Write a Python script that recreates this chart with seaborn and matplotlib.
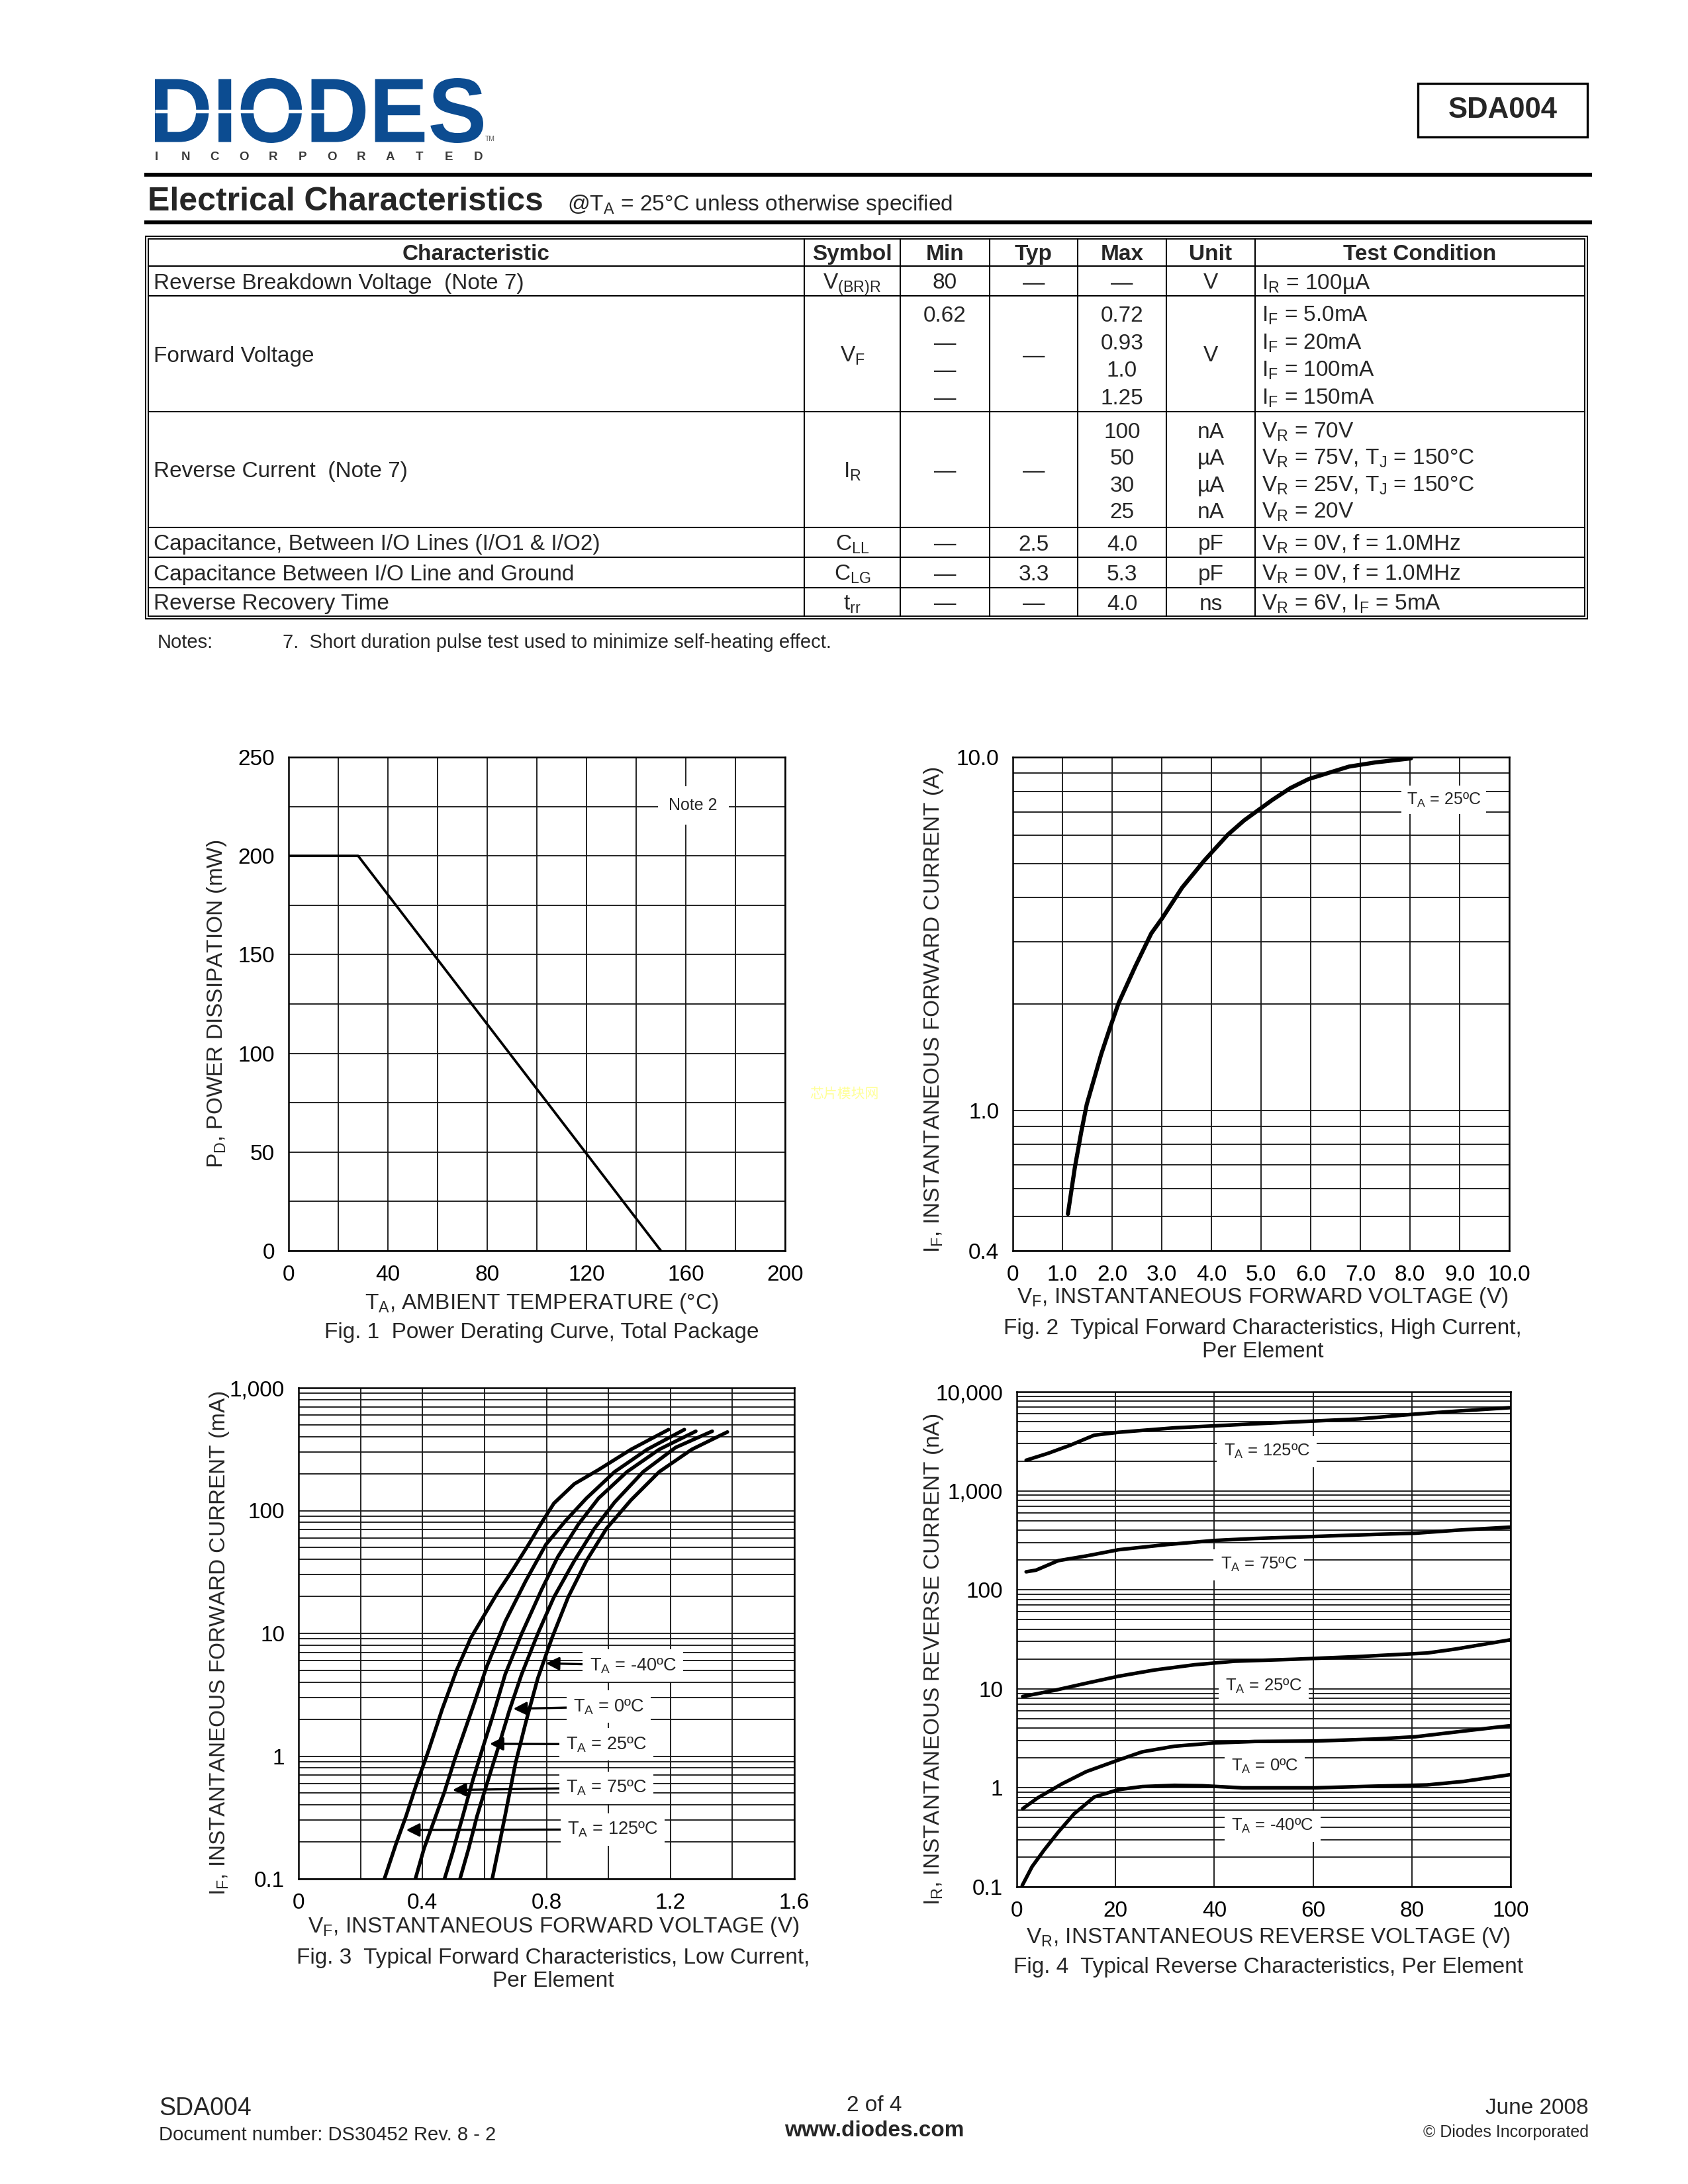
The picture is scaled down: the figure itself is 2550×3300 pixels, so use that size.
import numpy as np
import pandas as pd
import seaborn as sns
import matplotlib.pyplot as plt
from matplotlib.ticker import FixedLocator, FixedFormatter, NullFormatter, MultipleLocator
from matplotlib.patches import Rectangle, PathPatch
from matplotlib.textpath import TextPath
from matplotlib.font_manager import FontProperties
from matplotlib.transforms import Affine2D

# ---------------- data ----------------
# Fig. 1 power derating
derate_temp = [0, 28, 150]
derate_power = [200, 200, 0]

# Fig. 2 forward characteristics, high current
hc_vf = [1.11, 1.25, 1.38, 1.49, 1.78, 1.95, 2.13, 2.47, 2.79, 3.01, 3.41, 3.86, 4.33, 4.66, 5.23, 5.59, 5.96,
         6.77, 7.30, 8.02]
hc_if = [0.509, 0.689, 0.87, 1.04, 1.44, 1.70, 2.01, 2.56, 3.17, 3.50, 4.27, 5.10, 6.03, 6.62, 7.57, 8.17, 8.67,
         9.40, 9.66, 9.92]

# Fig. 3 forward characteristics, low current (V, mA)
lc_temps = ['125', '75', '25', '0', '-40']
lc_vf_125 = [0.277, 0.314, 0.347, 0.379, 0.419, 0.464, 0.510, 0.556, 0.595, 0.641, 0.693, 0.746, 0.785, 0.824, 0.890, 0.968, 1.073, 1.194]
lc_if_125 = [0.10, 0.191, 0.325, 0.574, 1.10, 2.43, 5.01, 9.2, 13.5, 21.2, 33.5, 54.8, 80.2, 114.6, 165, 215, 315, 457]
lc_vf_75 = [0.377, 0.405, 0.438, 0.471, 0.504, 0.563, 0.608, 0.667, 0.733, 0.798, 0.863, 0.929, 1.020, 1.125, 1.245]
lc_if_75 = [0.10, 0.177, 0.301, 0.513, 0.942, 2.53, 5.41, 12.5, 26.7, 52.8, 83.4, 126, 207, 315, 457]
lc_vf_25 = [0.471, 0.497, 0.530, 0.563, 0.595, 0.628, 0.667, 0.720, 0.785, 0.837, 0.903, 0.968, 1.060, 1.164, 1.282]
lc_if_25 = [0.10, 0.164, 0.325, 0.644, 1.18, 2.17, 4.65, 9.93, 22.9, 42.1, 77.3, 126, 207, 315, 443]
lc_vf_0 = [0.521, 0.549, 0.576, 0.608, 0.641, 0.680, 0.720, 0.772, 0.824, 0.890, 0.955, 1.020, 1.112, 1.217, 1.335]
lc_if_0 = [0.10, 0.177, 0.325, 0.597, 1.10, 2.34, 4.65, 9.93, 19.7, 39.0, 71.6, 117, 207, 327, 443]
lc_vf_m40 = [0.625, 0.648, 0.674, 0.700, 0.733, 0.772, 0.818, 0.870, 0.929, 0.994, 1.073, 1.164, 1.269, 1.384]
lc_if_m40 = [0.10, 0.191, 0.408, 0.873, 1.87, 4.30, 9.2, 19.7, 39.0, 71.6, 122, 207, 315, 437]

# Fig. 4 reverse characteristics (V, nA)
rv_vr_125 = [1.9, 6.3, 10.8, 15.7, 20.6, 31.9, 40.0, 48.2, 60.4, 69.3, 80.7, 88.8, 100]
rv_ir_125 = [2037, 2388, 2884, 3648, 3899, 4325, 4530, 4750, 5075, 5320, 5955, 6365, 6920]
rv_vr_75 = [1.9, 3.9, 8.4, 14.1, 20.6, 30.3, 40.0, 48.2, 60.4, 72.5, 80.7, 88.8, 100]
rv_ir_75 = [152, 158, 197, 220, 254, 286, 315, 330, 346, 363, 373, 399, 430]
rv_vr_25 = [1.2, 7.6, 14.1, 20.6, 27.9, 36.0, 44.1, 56.3, 68.5, 83.1, 88.8, 100]
rv_ir_25 = [8.37, 9.64, 11.4, 13.4, 15.5, 17.5, 19.0, 19.9, 21.1, 23.0, 25.2, 31.3]
rv_vr_0 = [1.2, 4.3, 9.2, 14.1, 20.6, 25.4, 31.9, 40.0, 48.2, 60.4, 72.5, 80.7, 88.8, 100]
rv_ir_0 = [0.616, 0.795, 1.10, 1.46, 1.91, 2.31, 2.63, 2.84, 2.94, 2.97, 3.11, 3.28, 3.66, 4.25]
rv_vr_m40 = [1.1, 3.1, 5.5, 8.4, 11.6, 15.7, 20.6, 25.4, 31.9, 37.6, 45.7, 60.4, 72.5, 83.1, 90.4, 100]
rv_ir_m40 = [0.103, 0.160, 0.234, 0.357, 0.546, 0.809, 0.959, 1.03, 1.06, 1.05, 1.00, 1.00, 1.04, 1.07, 1.16, 1.36]

# electrical characteristics table
col_heads = ['Characteristic', 'Symbol', 'Min', 'Typ', 'Max', 'Unit', 'Test Condition']
characteristics = ['Reverse Breakdown Voltage  (Note 7)', 'Forward Voltage', 'Reverse Current  (Note 7)',
                   'Capacitance, Between I/O Lines (I/O1 & I/O2)', 'Capacitance Between I/O Line and Ground',
                   'Reverse Recovery Time']
symbols = [r'V$_\mathregular{(BR)R}$', r'V$_\mathregular{F}$', r'I$_\mathregular{R}$',
           r'C$_\mathregular{LL}$', r'C$_\mathregular{LG}$', r't$_\mathregular{rr}$']
min_vals = [['80'], ['0.62', '—', '—', '—'], ['—'], ['—'], ['—'], ['—']]
typ_vals = [['—'], ['—'], ['—'], ['2.5'], ['3.3'], ['—']]
max_vals = [['—'], ['0.72', '0.93', '1.0', '1.25'], ['100', '50', '30', '25'], ['4.0'], ['5.3'], ['4.0']]
unit_vals = [['V'], ['V'], ['nA', 'µA', 'µA', 'nA'], ['pF'], ['pF'], ['ns']]
test_conds = [[r'I$_\mathregular{R}$ = 100µA'],
              [r'I$_\mathregular{F}$ = 5.0mA', r'I$_\mathregular{F}$ = 20mA', r'I$_\mathregular{F}$ = 100mA',
               r'I$_\mathregular{F}$ = 150mA'],
              [r'V$_\mathregular{R}$ = 70V', r'V$_\mathregular{R}$ = 75V, T$_\mathregular{J}$ = 150°C',
               r'V$_\mathregular{R}$ = 25V, T$_\mathregular{J}$ = 150°C', r'V$_\mathregular{R}$ = 20V'],
              [r'V$_\mathregular{R}$ = 0V, f = 1.0MHz'], [r'V$_\mathregular{R}$ = 0V, f = 1.0MHz'],
              [r'V$_\mathregular{R}$ = 6V, I$_\mathregular{F}$ = 5mA']]

# ---------------- styling ----------------
sns.set_theme(style='white')
plt.rcParams['font.family'] = ['Liberation Sans', 'DejaVu Sans']
plt.rcParams['mathtext.fontset'] = 'custom'
plt.rcParams['mathtext.rm'] = 'Liberation Sans'
plt.rcParams['mathtext.it'] = 'Liberation Sans:italic'
plt.rcParams['mathtext.bf'] = 'Liberation Sans:bold'

W, H = 2550, 3300
fig = plt.figure(figsize=(8.5, 11), dpi=300)
fig.patch.set_facecolor('white')

page = fig.add_axes([0, 0, 1, 1])
page.set_xlim(0, W)
page.set_ylim(H, 0)
page.axis('off')


def px_axes(x0, y0, x1, y1):
    return fig.add_axes([x0 / W, 1 - y1 / H, (x1 - x0) / W, (y1 - y0) / H])


def style_chart(ax):
    for s in ax.spines.values():
        s.set_color('black')
        s.set_linewidth(0.6)
    ax.tick_params(which='both', length=0, labelsize=8, pad=5, colors='black')
    ax.grid(which='both', color='#1a1a1a', lw=0.45)
    ax.set_axisbelow(True)
    ax.set_facecolor('white')


def labels(ax, xl, yl, cap, xl_y, cap_y, yl_x, cx=0.5, yl_y=0.5):
    ax.set_xlabel(xl, fontsize=8, va='center')
    ax.xaxis.set_label_coords(cx, xl_y)
    ax.set_ylabel(yl, fontsize=8, va='center')
    ax.yaxis.set_label_coords(yl_x, yl_y)
    ax.text(cx, cap_y, cap, transform=ax.transAxes, fontsize=8, ha='center', va='center',
            multialignment='center', linespacing=1.15)


# ---------------- header ----------------
tp = TextPath((0, 0), 'DIODES', size=100, prop=FontProperties(family='Liberation Sans', weight='bold'))
bb = tp.get_extents()
tr = Affine2D().translate(-bb.x0, -bb.y0).scale(496 / bb.width, -98 / bb.height).translate(234, 216)
page.add_patch(PathPatch(tr.transform_path(tp), facecolor='#0c4c91', lw=0))
page.plot([234, 505], [168, 168], color='white', lw=1.3, solid_capstyle='butt')
for i, ch in enumerate('INCORPORATED'):
    page.text(236 + i * 44.2, 237, ch, fontsize=4.5, fontweight='bold', color='#3a3a3a', ha='center', va='center')
page.text(733, 210, 'TM', fontsize=2.5, color='#555555', ha='left', va='center')

page.add_patch(Rectangle((2142, 126), 256, 81, fill=False, edgecolor='black', lw=0.8))
page.text(2270, 167, 'SDA004', fontsize=10.5, fontweight='bold', ha='center', va='center')

page.plot([218, 2405], [264, 264], color='black', lw=1.4, solid_capstyle='butt')
page.plot([218, 2405], [336, 336], color='black', lw=1.4, solid_capstyle='butt')
page.text(223, 318, 'Electrical Characteristics', fontsize=12, fontweight='bold', ha='left', va='baseline')
page.text(857, 318, r'@T$_\mathregular{A}$ = 25°C unless otherwise specified', fontsize=8, ha='left', va='baseline')

# ---------------- table ----------------
col_x = [224, 1215, 1360, 1495, 1628, 1762, 1896, 2394]
row_y = [361, 402, 447, 622, 797, 842, 888, 931]
page.add_patch(Rectangle((220, 357), 2178, 578, fill=False, edgecolor='black', lw=0.45))
page.add_patch(Rectangle((224, 361), 2170, 570, fill=False, edgecolor='black', lw=0.45))
for y in row_y[1:-1]:
    page.plot([224, 2394], [y, y], color='black', lw=0.5)
for x in col_x[1:-1]:
    page.plot([x, x], [361, 931], color='black', lw=0.5)


def cell(x, yc, s, ha='center', bold=False, size=8):
    page.text(x, yc + 12, s, fontsize=size, fontweight='bold' if bold else 'normal', ha=ha, va='baseline')


centers = [(col_x[i] + col_x[i + 1]) / 2 for i in range(7)]
for i, h in enumerate(col_heads):
    cell(centers[i], 381, h, bold=True)

multi_rows = {1: [474, 516, 557, 599], 2: [650, 690, 731, 771]}
for r in range(6):
    yc = (row_y[r + 1] + row_y[r + 2]) / 2
    cell(232, yc, characteristics[r], ha='left')
    cell(centers[1], yc, symbols[r])
    for ci, vals in zip([2, 3, 4, 5], [min_vals[r], typ_vals[r], max_vals[r], unit_vals[r]]):
        if len(vals) == 1:
            cell(centers[ci], yc, vals[0])
        else:
            for v, yy in zip(vals, multi_rows[r]):
                cell(centers[ci], yy, v)
    conds = test_conds[r]
    if len(conds) == 1:
        cell(1906, yc, conds[0], ha='left')
    else:
        for v, yy in zip(conds, multi_rows[r]):
            cell(1906, yy, v, ha='left')

page.text(238, 971, 'Notes:', fontsize=7, ha='left', va='center')
page.text(427, 971, '7.  Short duration pulse test used to minimize self-heating effect.', fontsize=7,
          ha='left', va='center')

# ---------------- Fig. 1 ----------------
ax1 = px_axes(436, 1144, 1186, 1890)
style_chart(ax1)
sns.lineplot(x=derate_temp, y=derate_power, ax=ax1, color='black', lw=0.9, estimator=None)
ax1.set_xlim(0, 200)
ax1.set_ylim(0, 250)
ax1.xaxis.set_major_locator(MultipleLocator(40))
ax1.xaxis.set_minor_locator(MultipleLocator(20))
ax1.yaxis.set_major_locator(MultipleLocator(50))
ax1.yaxis.set_minor_locator(MultipleLocator(25))
ax1.text(163, 225.5, 'Note 2', fontsize=6, ha='center', va='center',
         bbox=dict(facecolor='white', edgecolor='none', pad=4))
labels(ax1, r'T$_\mathregular{A}$, AMBIENT TEMPERATURE (°C)', r'P$_\mathregular{D}$, POWER DISSIPATION (mW)',
       'Fig. 1  Power Derating Curve, Total Package', -0.107, -0.166, -0.145, cx=0.509)

# ---------------- Fig. 2 ----------------
ax2 = px_axes(1530, 1144, 2280, 1890)
style_chart(ax2)
ax2.set_yscale('log')
sns.lineplot(x=hc_vf, y=hc_if, ax=ax2, color='black', lw=1.5, estimator=None)
ax2.set_xlim(0, 10)
ax2.set_ylim(0.4, 10)
ax2.xaxis.set_major_locator(FixedLocator(list(range(11))))
ax2.xaxis.set_major_formatter(FixedFormatter(['0'] + [f'{v:.1f}' for v in range(1, 11)]))
ax2.yaxis.set_major_locator(FixedLocator([0.4, 1, 10]))
ax2.yaxis.set_major_formatter(FixedFormatter(['0.4', '1.0', '10.0']))
ax2.yaxis.set_minor_locator(FixedLocator([0.5, 0.6, 0.7, 0.8, 0.9, 2, 3, 4, 5, 6, 7, 8, 9]))
ax2.yaxis.set_minor_formatter(NullFormatter())
ax2.text(8.68, 7.57, r'T$_\mathregular{A}$ = 25ºC', fontsize=6, ha='center', va='center',
         bbox=dict(facecolor='white', edgecolor='none', pad=2))
labels(ax2, r'V$_\mathregular{F}$, INSTANTANEOUS FORWARD VOLTAGE (V)', r'I$_\mathregular{F}$, INSTANTANEOUS FORWARD CURRENT (A)',
       'Fig. 2  Typical Forward Characteristics, High Current,\nPer Element', -0.094, -0.181, -0.159, cx=0.503,
       yl_y=0.488)

# ---------------- Fig. 3 ----------------
ax3 = px_axes(451, 2097, 1200, 2839)
style_chart(ax3)
ax3.set_yscale('log')
lc_df = pd.concat([
    pd.DataFrame({'vf': v, 'if': i, 'temp': t})
    for t, v, i in zip(lc_temps, [lc_vf_125, lc_vf_75, lc_vf_25, lc_vf_0, lc_vf_m40],
                       [lc_if_125, lc_if_75, lc_if_25, lc_if_0, lc_if_m40])
])
sns.lineplot(data=lc_df, x='vf', y='if', hue='temp', palette=['black'] * 5, legend=False,
             estimator=None, lw=1.3, ax=ax3)
ax3.set_xlim(0, 1.6)
ax3.set_ylim(0.1, 1000)
ax3.xaxis.set_major_locator(FixedLocator([0, 0.4, 0.8, 1.2, 1.6]))
ax3.xaxis.set_major_formatter(FixedFormatter(['0', '0.4', '0.8', '1.2', '1.6']))
ax3.xaxis.set_minor_locator(MultipleLocator(0.2))
ax3.yaxis.set_major_locator(FixedLocator([0.1, 1, 10, 100, 1000]))
ax3.yaxis.set_major_formatter(FixedFormatter(['0.1', '1', '10', '100', '1,000']))
ax3.yaxis.set_minor_locator(FixedLocator([m * d for d in [0.1, 1, 10, 100] for m in range(2, 10)]))
ax3.yaxis.set_minor_formatter(NullFormatter())
for txt, xy, xyt in [('-40', (0.798, 5.70), (1.079, 5.49)), ('0', (0.693, 2.43), (1.001, 2.53)),
                     ('25', (0.617, 1.26), (0.994, 1.25)), ('75', (0.497, 0.53), (0.994, 0.553)),
                     ('125', (0.347, 0.25), (1.014, 0.253))]:
    ax3.annotate(r'T$_\mathregular{A}$ = ' + txt + 'ºC', xy=xy, xytext=xyt, fontsize=6.5, ha='center', va='center',
                 bbox=dict(facecolor='white', edgecolor='none', pad=2.5),
                 arrowprops=dict(arrowstyle='-|>', color='black', lw=0.8, mutation_scale=10, shrinkA=0, shrinkB=0))
labels(ax3, r'V$_\mathregular{F}$, INSTANTANEOUS FORWARD VOLTAGE (V)', r'I$_\mathregular{F}$, INSTANTANEOUS FORWARD CURRENT (mA)',
       'Fig. 3  Typical Forward Characteristics, Low Current,\nPer Element', -0.098, -0.185, -0.159, cx=0.514,
       yl_y=0.48)

# ---------------- Fig. 4 ----------------
ax4 = px_axes(1536, 2103, 2282, 2851)
style_chart(ax4)
ax4.set_yscale('log')
rv_df = pd.concat([
    pd.DataFrame({'vr': v, 'ir': i, 'temp': t})
    for t, v, i in zip(lc_temps, [rv_vr_125, rv_vr_75, rv_vr_25, rv_vr_0, rv_vr_m40],
                       [rv_ir_125, rv_ir_75, rv_ir_25, rv_ir_0, rv_ir_m40])
])
sns.lineplot(data=rv_df, x='vr', y='ir', hue='temp', palette=['black'] * 5, legend=False,
             estimator=None, lw=1.3, ax=ax4)
ax4.set_xlim(0, 100)
ax4.set_ylim(0.1, 10000)
ax4.xaxis.set_major_locator(MultipleLocator(20))
ax4.yaxis.set_major_locator(FixedLocator([0.1, 1, 10, 100, 1000, 10000]))
ax4.yaxis.set_major_formatter(FixedFormatter(['0.1', '1', '10', '100', '1,000', '10,000']))
ax4.yaxis.set_minor_locator(FixedLocator([m * d for d in [0.1, 1, 10, 100, 1000] for m in range(2, 10)]))
ax4.yaxis.set_minor_formatter(NullFormatter())
for txt, xy in [('125', (50.6, 2500)), ('75', (49.0, 179)), ('25', (50.0, 10.6)),
                ('0', (50.2, 1.64)), ('-40', (51.8, 0.41))]:
    ax4.text(xy[0], xy[1], r'T$_\mathregular{A}$ = ' + txt + 'ºC', fontsize=6.2, ha='center', va='center',
             bbox=dict(facecolor='white', edgecolor='none', pad=2.5))
labels(ax4, r'V$_\mathregular{R}$, INSTANTANEOUS REVERSE VOLTAGE (V)', r'I$_\mathregular{R}$, INSTANTANEOUS REVERSE CURRENT (nA)',
       'Fig. 4  Typical Reverse Characteristics, Per Element', -0.102, -0.163, -0.168, cx=0.51, yl_y=0.46)

# watermark
page.text(1275, 1653, '芯片模块网', fontsize=5, color='#ffff99', ha='center', va='center',
          family=['Noto Sans CJK SC', 'DejaVu Sans'])

# ---------------- footer ----------------
page.text(240, 3186, 'SDA004', fontsize=9, ha='left', va='center')
page.text(240, 3226, 'Document number: DS30452 Rev. 8 - 2', fontsize=7, ha='left', va='center')
page.text(1321, 3182, '2 of 4', fontsize=8, ha='center', va='center')
page.text(1321, 3220, 'www.diodes.com', fontsize=8, fontweight='bold', ha='center', va='center')
page.text(2400, 3186, 'June 2008', fontsize=8, ha='right', va='center')
page.text(2400, 3222, '© Diodes Incorporated', fontsize=6, ha='right', va='center')

fig.savefig('out.png', dpi=300, facecolor='white')
